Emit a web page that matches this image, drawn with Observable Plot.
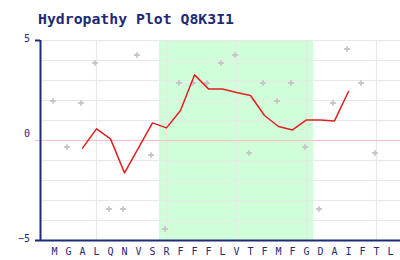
<!DOCTYPE html>
<html><head><meta charset="utf-8">
<script src="https://cdn.jsdelivr.net/npm/d3@7"></script>
<script src="https://cdn.jsdelivr.net/npm/@observablehq/plot@0.6"></script>
<style>body{margin:0;background:#fff;} svg{display:block}</style>
</head><body><div id="chart"></div>
<script>
const title = "Hydropathy Plot Q8K3I1";
const residues = ["M","G","A","L","Q","N","V","S","R","F","F","F","L","V","T","F","M","F","G","D","A","I","F","T","L"];
const residueScores = [1.9,-0.4,1.8,3.8,-3.5,-3.5,4.2,-0.8,-4.5,2.8,2.8,2.8,3.8,4.2,-0.7,2.8,1.9,2.8,-0.4,-3.5,1.8,4.5,2.8,-0.7];
const avgStart = 3;
const windowAverages = [-0.38,0.58,0.08,-1.62,-0.37,0.88,0.63,1.5,3.28,2.58,2.58,2.4,2.25,1.25,0.7,0.53,1.03,1.03,0.98,2.45];
const tmSegment = [{start: 9, end: 19}];
const yTickValues = [5, 0, -5];
const yTickLabels = ["5", "0", "\u22125"];
const yGridValues = [-4, -3, -2, -1, 1, 2, 3, 4, 5];
const xGridResidues = [4, 9, 14, 19, 24];

const navy = "#1e2a78";
const mono = "DejaVu Sans Mono";
const pxPerUnit = 14;
const tickLen = 5 / pxPerUnit;

const points = residueScores.map((v, i) => ({pos: i + 1, v}));
const avg = windowAverages.map((v, i) => ({pos: i + avgStart, v}));
const labels = residues.map((r, i) => ({pos: i + 1, r}));
const yLabs = yTickValues.map((v, i) => ({v, t: yTickLabels[i]}));

const yLabelStyle = {x: () => 0, y: "v", text: "t", dx: -10.5, textAnchor: "end", fontFamily: mono, fontSize: 10, fill: navy};

const chart = Plot.plot({
  width: 400, height: 260,
  marginTop: 40, marginLeft: 40, marginRight: 0, marginBottom: 20,
  x: {type: "linear", domain: [0, 360 / pxPerUnit], axis: null},
  y: {type: "linear", domain: [-5, 5], axis: null},
  marks: [
    Plot.rect(tmSegment, {x1: d => d.start - 0.5, x2: d => d.end + 0.5, y1: () => -5, y2: () => 5, fill: "#d0fed8"}),
    Plot.ruleY(yGridValues, {stroke: "#e8e8e8", strokeWidth: 1.2}),
    Plot.ruleX(xGridResidues, {stroke: "#e8e8e8", strokeWidth: 1.2, y1: () => -5, y2: () => 5}),
    Plot.ruleY([0], {x1: () => -tickLen, x2: () => 360 / pxPerUnit, stroke: "#ffc2c2", strokeWidth: 1.2}),
    Plot.dot(points, {x: "pos", y: "v", symbol: "plus", r: 2, stroke: "#c6c6c6", strokeWidth: 1.8, dx: -1.5, dy: -1.5}),
    Plot.line(avg, {x: "pos", y: "v", stroke: "#e41e22", strokeWidth: 1.5}),
    Plot.ruleX([0], {stroke: navy, strokeWidth: 2}),
    Plot.ruleY([-5], {x1: () => -tickLen, x2: () => 360 / pxPerUnit, stroke: navy, strokeWidth: 2}),
    Plot.ruleY([5], {x1: () => -tickLen, x2: () => 0, stroke: navy, strokeWidth: 2}),
    Plot.text(yLabs, {...yLabelStyle, filter: d => d.v !== 0, dy: -1.5}),
    Plot.text(yLabs, {...yLabelStyle, filter: d => d.v === 0, dy: -7.2}),
    Plot.text(labels, {x: "pos", y: () => -5, text: "r", dy: 11.7, fontFamily: mono, fontSize: 10, fill: navy}),
    Plot.text([title], {x: () => 0, y: () => 5, dx: -2.5, dy: -21.4, textAnchor: "start",
      fontFamily: mono, fontWeight: "bold", fontSize: 14.8, fill: navy})
  ]
});
document.getElementById("chart").appendChild(chart);
</script>
</body></html>
